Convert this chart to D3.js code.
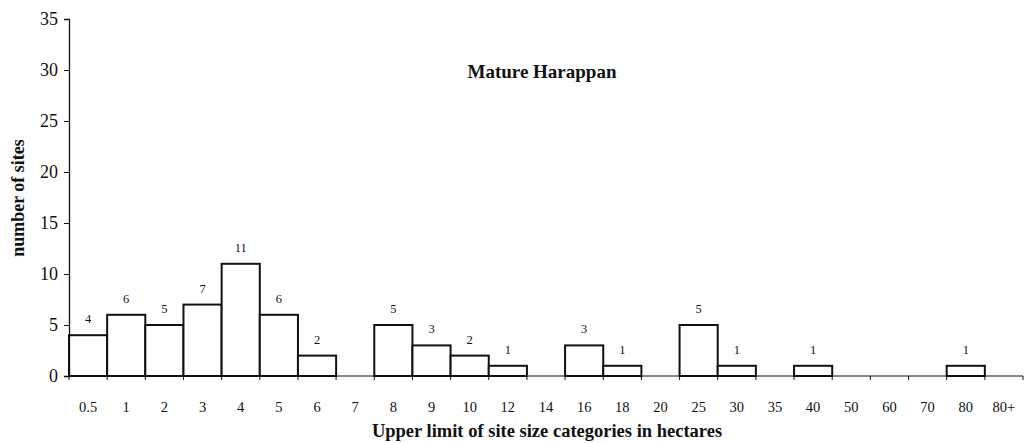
<!DOCTYPE html>
<html>
<head>
<meta charset="utf-8">
<script src="https://cdn.jsdelivr.net/npm/d3@7"></script>
<style>
  html, body { margin: 0; padding: 0; background: #fff; }
  svg { display: block; }
  text { font-family: "Liberation Serif", "Times New Roman", serif; fill: #111; }
</style>
</head>
<body>
<svg id="chart" width="1026" height="443"></svg>
<script>
// Site size categories (upper limit, hectares) and counts of Mature Harappan sites
const categories = ["0.5","1","2","3","4","5","6","7","8","9","10","12","14","16","18","20","25","30","35","40","50","60","70","80","80+"];
const siteCounts = [4, 6, 5, 7, 11, 6, 2, 0, 5, 3, 2, 1, 0, 3, 1, 0, 5, 1, 0, 1, 0, 0, 0, 1, 0];
const yTicks = [0, 5, 10, 15, 20, 25, 30, 35];

const svg = d3.select("#chart");
const margin = { left: 69, right: 3, top: 19, bottom: 67 };
const W = 1026, H = 443;

const x = d3.scaleBand()
  .domain(categories)
  .range([margin.left, W - margin.right])
  .paddingInner(0).paddingOuter(0);

const y = d3.scaleLinear()
  .domain([0, 35])
  .range([H - margin.bottom, margin.top]);

const data = categories.map((c, i) => ({ cat: c, v: siteCounts[i] }));

// Bars
svg.append("g")
  .selectAll("rect")
  .data(data.filter(d => d.v > 0))
  .join("rect")
  .attr("x", d => x(d.cat))
  .attr("y", d => y(d.v))
  .attr("width", x.bandwidth())
  .attr("height", d => y(0) - y(d.v))
  .attr("fill", "#fff")
  .attr("stroke", "#111")
  .attr("stroke-width", 2);

// Value labels
svg.append("g")
  .selectAll("text")
  .data(data.filter(d => d.v > 0))
  .join("text")
  .attr("x", d => x(d.cat) + x.bandwidth() / 2)
  .attr("y", d => y(d.v) - 12)
  .attr("text-anchor", "middle")
  .attr("font-size", 12.5)
  .text(d => d.v);

// X axis: baseline with ticks at category boundaries
const xAxis = svg.append("g").attr("transform", `translate(0,${y(0)})`);
xAxis.append("line")
  .attr("x1", x.range()[0]).attr("x2", x.range()[1])
  .attr("stroke", "#111").attr("stroke-width", 1);
xAxis.selectAll("line.tick")
  .data(categories.concat(["__end"]))
  .join("line")
  .attr("class", "tick")
  .attr("x1", (d, i) => x.range()[0] + i * x.step())
  .attr("x2", (d, i) => x.range()[0] + i * x.step())
  .attr("y1", 0).attr("y2", 4)
  .attr("stroke", "#111").attr("stroke-width", 1);
xAxis.selectAll("text")
  .data(categories)
  .join("text")
  .attr("x", d => x(d) + x.bandwidth() / 2)
  .attr("y", 36)
  .attr("text-anchor", "middle")
  .attr("font-size", 14.5)
  .text(d => d);

// Y axis
const yAxis = d3.axisLeft(y).tickValues(yTicks).tickSize(5).tickPadding(6).tickFormat(d3.format("d"));
const gy = svg.append("g")
  .attr("transform", `translate(${margin.left},0)`)
  .call(yAxis);
gy.select(".domain").attr("stroke", "#111").attr("stroke-width", 1.3);
gy.selectAll(".tick line").attr("stroke", "#111");
gy.selectAll(".tick text")
  .attr("font-family", "Liberation Serif, serif")
  .attr("font-size", 18)
  .attr("fill", "#111");

// Axis titles
svg.append("text")
  .attr("transform", `translate(24,198) rotate(-90)`)
  .attr("text-anchor", "middle")
  .attr("font-size", 18)
  .attr("font-weight", "bold")
  .text("number of sites");

svg.append("text")
  .attr("x", 547)
  .attr("y", 437)
  .attr("text-anchor", "middle")
  .attr("font-size", 18.5)
  .attr("font-weight", "bold")
  .text("Upper limit of site size categories in hectares");

// Chart title
svg.append("text")
  .attr("x", 542)
  .attr("y", 78)
  .attr("text-anchor", "middle")
  .attr("font-size", 19)
  .attr("font-weight", "bold")
  .text("Mature Harappan");
</script>
</body>
</html>
